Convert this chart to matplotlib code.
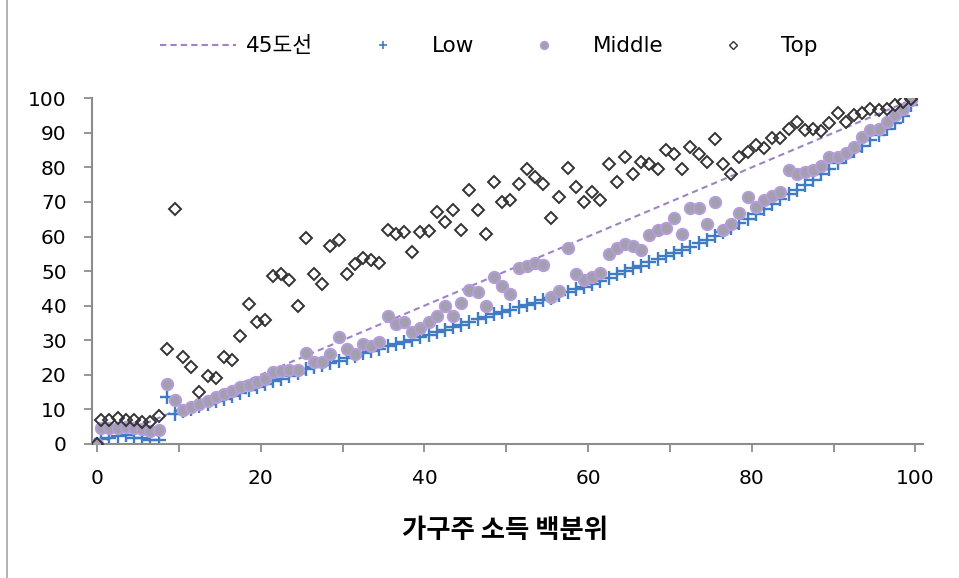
import numpy as np
import matplotlib
matplotlib.use("Agg")
import matplotlib.pyplot as plt
from matplotlib.lines import Line2D

plt.rcParams['font.family'] = ['DejaVu Sans', 'Noto Sans CJK KR']

# 가구주 소득 백분위 (구간 중앙값), 원점은 따로 앞에 붙인다
pct = np.arange(100) + 0.5

low = [1.5, 1.8, 2.4, 2.7, 1.8, 1.6, 1.2, 1.2, 13.5, 8.6,
       9.4, 10.1, 10.9, 11.6, 12.4, 13.1, 13.9, 14.7, 15.5, 16.4,
       17.2, 18.1, 18.9, 19.6, 20.4, 21.6, 22.2, 22.8, 23.4, 24.1,
       24.8, 25.5, 26.2, 26.9, 27.5, 28.2, 28.8, 29.5, 30.2, 30.9,
       31.6, 32.3, 33.0, 33.8, 34.5, 35.3, 36.0, 36.8, 37.5, 38.1,
       38.8, 39.5, 40.2, 40.9, 41.6, 42.3, 43.1, 43.9, 44.7, 45.5,
       46.3, 47.2, 48.1, 49.3, 50.0, 50.8, 51.6, 52.5, 53.4, 54.3,
       55.2, 56.1, 57.1, 58.1, 59.1, 60.2, 61.4, 62.6, 63.9, 65.2,
       66.6, 68.0, 69.4, 70.8, 72.2, 73.6, 75.0, 76.4, 78.0, 79.6,
       81.3, 83.0, 84.6, 86.2, 87.8, 89.4, 91.0, 92.8, 95.0, 98.0]

middle = [4.5, 4.5, 4.5, 4.8, 4.6, 4.2, 3.8, 4.0, 17.3, 12.8,
          9.8, 10.6, 11.6, 12.5, 13.5, 14.5, 15.4, 16.4, 17.1, 18.0,
          18.7, 20.9, 21.1, 21.4, 21.4, 26.2, 23.8, 23.8, 26.0, 30.8,
          27.4, 26.0, 28.9, 28.4, 29.4, 37.0, 34.7, 35.4, 32.5, 33.4,
          35.4, 37.0, 39.9, 37.0, 40.7, 44.5, 44.0, 39.9, 48.4, 45.7,
          43.4, 50.8, 51.4, 52.4, 51.9, 42.6, 44.3, 56.6, 49.1, 47.4,
          48.4, 49.5, 54.9, 56.6, 57.8, 57.3, 56.1, 60.4, 61.8, 62.5,
          65.5, 60.7, 68.3, 68.3, 63.6, 70.0, 61.8, 63.6, 66.7, 71.3,
          68.4, 70.7, 71.7, 72.9, 79.2, 78.0, 78.7, 79.2, 80.3, 83.0,
          83.0, 84.2, 85.9, 88.8, 90.8, 91.2, 93.2, 95.1, 97.0, 99.4]

top = [6.9, 6.9, 7.6, 6.9, 6.9, 6.4, 6.4, 8.1, 27.4, 68.1,
       25.1, 22.2, 15.1, 19.7, 19.2, 25.1, 24.3, 31.2, 40.5, 35.4,
       35.8, 48.6, 49.3, 47.4, 39.9, 59.6, 49.2, 46.3, 57.2, 59.0,
       49.1, 52.0, 53.7, 53.2, 52.4, 61.8, 60.7, 61.4, 55.6, 61.4,
       61.7, 67.1, 64.3, 67.6, 61.8, 73.4, 67.6, 60.7, 75.8, 70.0,
       70.5, 75.1, 79.4, 77.1, 75.1, 65.5, 71.3, 79.7, 74.2, 70.0,
       72.9, 70.5, 81.0, 75.8, 82.9, 78.0, 81.6, 81.1, 79.4, 85.0,
       83.8, 79.4, 85.8, 84.0, 81.6, 88.1, 81.1, 78.0, 83.0, 84.5,
       86.4, 85.5, 88.6, 88.4, 91.2, 93.2, 90.8, 91.2, 90.6, 92.7,
       95.6, 93.2, 95.1, 95.6, 97.0, 96.5, 97.0, 98.0, 98.9, 99.9]

diag = [0, 100]
xticks = list(range(0, 101, 10))
yticks = list(range(0, 101, 10))

x_all = np.concatenate([[0], pct])
low_all = [0] + low
mid_all = [0] + middle
top_all = [0] + top

axis_gray = '#8c8c8c'
c_line = '#9d83c6'
c_low = '#3f7cc4'
c_mid_face = '#a2a0ad'
c_mid_edge = '#b49cd8'
c_top = '#333333'

fig = plt.figure(figsize=(9.59, 5.78), dpi=100)
ax = fig.add_axes([0.0956, 0.232, 0.867, 0.598])

ax.plot(diag, diag, linestyle=(0, (3, 2)), color=c_line, lw=1.5, zorder=1)
ax.plot(x_all, low_all, linestyle='none', marker='+', ms=9.5, mew=1.7,
        color=c_low, zorder=2)
ax.plot(x_all, mid_all, linestyle='none', marker='o', ms=8, mew=1.6,
        mfc=c_mid_face, mec=c_mid_edge, zorder=3)
ax.plot(x_all, top_all, linestyle='none', marker='D', ms=6.3, mew=1.4,
        mfc='none', mec=c_top, zorder=4)

ax.set_xlim(-0.67, 100.95)
ax.set_ylim(0, 100)
ax.set_xticks(xticks)
ax.set_xticklabels([str(v) if v % 20 == 0 else '' for v in xticks])
ax.set_yticks(yticks)

for side in ('top', 'right'):
    ax.spines[side].set_visible(False)
for side in ('left', 'bottom'):
    ax.spines[side].set_color(axis_gray)
    ax.spines[side].set_linewidth(1.5)
ax.tick_params(axis='both', colors=axis_gray, labelcolor='black',
               labelsize=14.5, length=6, width=1.3, direction='out')
ax.tick_params(axis='x', pad=12)
ax.tick_params(axis='y', pad=12)

fig.text(0.527, 0.083, '가구주 소득 백분위', ha='center', va='center',
         fontsize=19, fontweight='bold', family=['Noto Sans CJK KR'])

handles = [
    Line2D([], [], linestyle=(0, (3, 2)), color=c_line, lw=1.5),
    Line2D([], [], linestyle='none', marker='+', ms=6, mew=1.2, color=c_low),
    Line2D([], [], linestyle='none', marker='o', ms=5.5, mew=1.2,
           mfc=c_mid_face, mec=c_mid_edge),
    Line2D([], [], linestyle='none', marker='D', ms=4, mew=1.0,
           mfc='none', mec=c_top),
]
labels = ['45도선', 'Low', 'Middle', 'Top']
fig.legend(handles, labels, loc='center', bbox_to_anchor=(0.51, 0.92),
           ncol=4, frameon=False, fontsize=15.5, handlelength=3.5,
           handletextpad=0.5, columnspacing=1.5)

# 왼쪽 테두리선
fig.add_artist(Line2D([0.0075, 0.0075], [0, 1], color='#a6a6a6', lw=1.2,
                      transform=fig.transFigure))

fig.savefig('out.png', dpi=100)
